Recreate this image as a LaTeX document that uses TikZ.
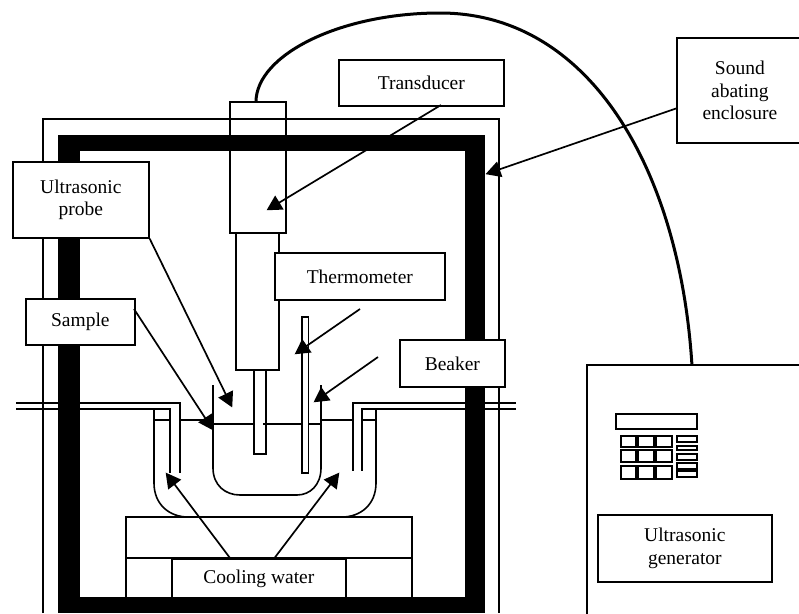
\documentclass[tikz,border=0pt]{standalone}
\usepackage{fontspec}
\setmainfont{Liberation Serif}
\usetikzlibrary{arrows.meta}
\tikzset{
  line/.style={line width=1.6pt,draw=black},
  thin wall/.style={line width=1.5pt,draw=black},
  label box/.style={draw=black,line width=1.7pt,fill=white,inner sep=0pt,align=center,
    font=\fontsize{19.5}{22.5}\selectfont},
  pointer/.style={line width=1.7pt,-{Triangle[length=15pt,width=16pt]},shorten >=-0.5pt},
  key/.style={draw=black,line width=1.6pt,fill=white}
}
\newcommand{\lbl}[6]{\node[label box,minimum width=#4pt-#2pt,minimum height=#5pt-#3pt,anchor=north west] (#1) at (#2,#3) {#6};}
\begin{document}
\begin{tikzpicture}[x=1pt,y=-1pt]
\useasboundingbox (0,0) rectangle (799,613);
% cable
\draw[line width=3pt] (256,102) .. controls (256,55) and (340,13) .. (440,13)
  .. controls (590,13) and (680,170) .. (692,366);
% enclosure
\draw[thin wall] (43,613) -- (43,119) -- (499,119) -- (499,613);
% pipes outside (beneath the wall)
\draw[line] (16,403) -- (180,403) -- (180,473);
\draw[line] (16,409) -- (170,409) -- (170,473);
\draw[line] (516,403) -- (353,403) -- (353,471);
\draw[line] (516,409) -- (362,409) -- (362,471);
\fill[black] (58,613) -- (58,135) -- (485,135) -- (485,613) -- cycle;
\fill[white] (80,151) rectangle (465,597);
% pipes inside the wall
\draw[line] (80,403) -- (180,403) -- (180,473);
\draw[line] (80,409) -- (170,409) -- (170,473);
\draw[line] (465,403) -- (353,403) -- (353,471);
\draw[line] (465,409) -- (362,409) -- (362,471);
% jacket
\draw[line] (154,409) -- (154,483) .. controls (154,505) and (170,517) .. (188,517);
\draw[line] (376,409) -- (376,483) .. controls (376,505) and (360,517) .. (342,517);
\draw[line] (154,420) -- (170,420);
\draw[line] (362,420) -- (376,420);
\draw[line] (180,420) -- (213,420);
\draw[line] (321,420) -- (353,420);
% beaker
\draw[line] (213,385) -- (213,468) .. controls (213,485) and (225,495) .. (240,495) -- (297,495) .. controls (310,495) and (321,485) .. (321,468) -- (321,385);
\draw[line] (213,424) -- (254,424);
\draw[line] (263,424) -- (302,424);
\draw[line] (308.5,424) -- (321,424);
% stand
\draw[line] (126,597) -- (126,517) -- (412,517) -- (412,597);
\draw[line] (126,558) -- (412,558);
% probe
\draw[line] (230,102) rectangle (286,233);
\draw[line] (236,233) rectangle (279,370);
\draw[line] (254,370) -- (254,454) -- (266,454) -- (266,370);
% thermometer
\draw[line] (302,317) rectangle (308.5,473);
% generator
\draw[line width=1.7pt,fill=white] (801,365) -- (587,365) -- (587,615);
\draw[key] (616,414) rectangle (697,429);
\foreach \xa/\xb in {621/636,638/654,656/672}
  \foreach \ya/\yb in {436/447,450/462,466/479}
    \draw[key] (\xa,\ya) rectangle (\xb,\yb);
\foreach \ya/\yb in {436/442,446/450,454/460,463/469,471/477}
  \draw[key] (677,\ya) rectangle (697,\yb);
% labels
\lbl{transducer}{338}{59}{503}{105}{Transducer}
\lbl{sound}{676}{37}{802}{142}{Sound\\abating\\enclosure}
\lbl{probe}{12}{161}{148}{237}{Ultrasonic\\probe}
\lbl{thermo}{274}{252}{444}{299}{Thermometer}
\lbl{sample}{25}{298}{134}{344}{Sample}
\lbl{beaker}{399}{339}{504}{386}{Beaker}
\lbl{water}{171}{558}{345}{597}{\raisebox{-1.5pt}{Cooling water}}
\lbl{gen}{597}{514}{771}{581}{Ultrasonic\\generator}
% pointer ends
\coordinate (transducerS) at (441,105);
\coordinate (transducerT) at (267,210);
\coordinate (soundS) at (676,108.5);
\coordinate (soundT) at (486,174);
\coordinate (probeS) at (probe.south east);
\coordinate (probeT) at (232,407);
\coordinate (sampleS) at (134,309);
\coordinate (sampleT) at (213,430);
\coordinate (thermoS) at (360,309);
\coordinate (thermoT) at (295,354);
\coordinate (beakerS) at (378,357);
\coordinate (beakerT) at (314,402);
\coordinate (waterL) at (230,558);
\coordinate (waterLT) at (166,473);
\coordinate (waterR) at (274.5,558);
\coordinate (waterRT) at (339,473);
\draw[pointer] (transducerS) -- (transducerT);
\draw[pointer] (soundS) -- (soundT);
\draw[pointer] (probeS) -- (probeT);
\draw[pointer] (sampleS) -- (sampleT);
\draw[pointer] (thermoS) -- (thermoT);
\draw[pointer] (beakerS) -- (beakerT);
\draw[pointer] (waterL) -- (waterLT);
\draw[pointer] (waterR) -- (waterRT);
\end{tikzpicture}
\end{document}
